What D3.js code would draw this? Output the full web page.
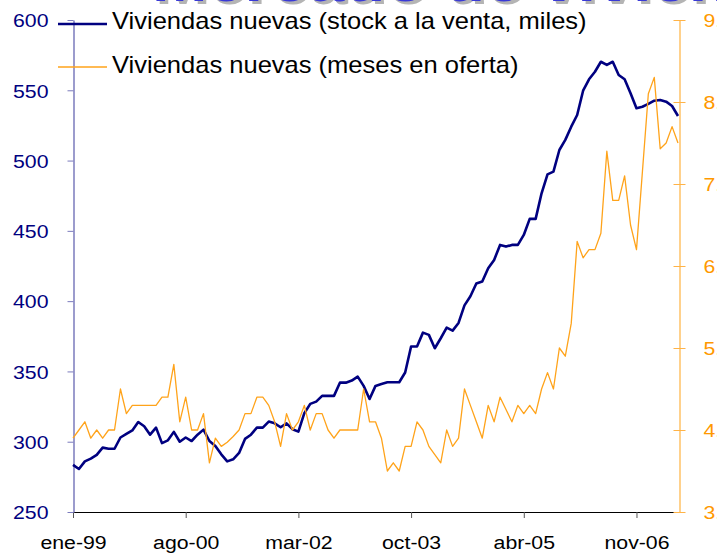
<!DOCTYPE html>
<html><head><meta charset="utf-8">
<script src="https://cdn.jsdelivr.net/npm/d3@7"></script>
<style>body{margin:0;background:#fff} svg{display:block} text{font-family:"Liberation Sans",Arial,sans-serif}</style>
</head><body><svg id="c" width="717" height="556"></svg>
<script>
const titleText = "Mercado de vivienda";
const seriesNames = ["Viviendas nuevas (stock a la venta, miles)", "Viviendas nuevas (meses en oferta)"];
const tickIdx = [0, 19, 38, 57, 76, 95];
const tickLabels = ["ene-99", "ago-00", "mar-02", "oct-03", "abr-05", "nov-06"];
const leftTicks = [250, 300, 350, 400, 450, 500, 550, 600];
const rightTicks = [3, 4, 5, 6, 7, 8, 9];

const stock = [283.5,280.6,286,288,290.6,295.8,295,295,303,305.5,308,314,311,305,310,299,301,307,300,303,
  300.5,305,308.6,300.5,297,291,286,287.5,292,302,305,310,310,314.3,313.1,310.3,313.1,308.9,307.2,320.3,
  326.9,328.5,332.6,332.6,332.6,342,342,343.5,346.3,339.7,330.4,339.7,341.1,342.3,342.3,342.3,349.2,367.7,367.7,377.6,
  376,366.5,373.6,381.1,379,384.5,397,403.5,412.5,414,423.4,429.3,440,438.8,440,440,447.1,458.5,458.5,476.7,
  490.2,492.1,507.5,514.7,524.1,532.4,549.7,557.8,563.2,570.3,568,570.3,560.9,557.8,547.9,537.2,538.3,540.3,542.6,543.1,
  541.9,538.8,531.7];
const meses = [3.9,4.0,4.1,3.9,4.0,3.9,4.0,4.0,4.5,4.2,4.3,4.3,4.3,4.3,4.3,4.4,4.4,4.8,4.1,4.4,
  4.0,4.0,4.2,3.6,3.9,3.8,3.85,3.92,4.0,4.2,4.2,4.4,4.4,4.3,4.1,3.8,4.2,4.0,4.1,4.3,
  4.0,4.2,4.2,4.0,3.9,4.0,4.0,4.0,4.0,4.5,4.1,4.1,3.9,3.5,3.6,3.5,3.8,3.8,4.1,4.0,
  3.8,3.7,3.6,4.0,3.8,3.9,4.5,4.3,4.1,3.9,4.3,4.1,4.4,4.25,4.1,4.3,4.2,4.3,4.2,4.5,
  4.7,4.5,5.0,4.9,5.3,6.3,6.1,6.2,6.2,6.4,7.4,6.8,6.8,7.1,6.5,6.2,7.15,8.1,8.3,7.43,
  7.5,7.7,7.5];

const NAVY = "#000080", ORANGE = "#ffa31a";
const SX = 1.12;
const svg = d3.select("#c");

const x = d3.scaleLinear().domain([0, stock.length - 1]).range([73, 678]);
const yL = d3.scaleLinear().domain([250, 600]).range([512, 20]);
const yR = d3.scaleLinear().domain([3, 9]).range([512, 20]);

// title (mostly cropped)
const tg = svg.append("g").attr("transform", "translate(152,1) scale(1.11,1)");
tg.append("text").attr("x", 3).attr("y", 3).attr("font-size", 60).attr("font-weight", "bold")
  .attr("fill", "#b4b4b4").text(titleText);
tg.append("text").attr("x", 0).attr("y", 0).attr("font-size", 60).attr("font-weight", "bold")
  .attr("fill", "#3a3ad6").text(titleText);

// bottom axis
const gB = svg.append("g").attr("transform", "translate(0,512)")
  .call(d3.axisBottom(x).tickValues(tickIdx).tickFormat((d, i) => tickLabels[i]).tickSize(6).tickSizeOuter(0));
gB.select(".domain").attr("d", "M73.5,0.5H679").attr("stroke", "#000");
gB.selectAll(".tick line").attr("stroke", "#555");
gB.selectAll(".tick text").attr("y", 37 ).attr("dy", 0).attr("font-size", 19).attr("fill", "#000")
  .attr("transform", `scale(${SX},1)`);

// left axis
const gL = svg.append("g").attr("transform", "translate(73.5,0)")
  .call(d3.axisLeft(yL).tickValues(leftTicks).tickSize(6).tickSizeOuter(0));
gL.select(".domain").attr("stroke", "#7b7bbd").attr("stroke-width", 1.5);
gL.selectAll(".tick line").attr("stroke", "#7b7bbd");
gL.selectAll(".tick text").attr("x", -25 / SX).attr("dy", "0.36em").attr("font-size", 19).attr("fill", NAVY)
  .attr("transform", `scale(${SX},1)`);

// right axis
const gR = svg.append("g").attr("transform", "translate(679.5,0)")
  .call(d3.axisRight(yR).tickValues(rightTicks).tickSize(6).tickSizeOuter(0));
gR.select(".domain").attr("stroke", "#ffc266").attr("stroke-width", 1.5);
gR.selectAll(".tick line").attr("x1", -6).attr("x2", 6).attr("stroke", "#ffb347");
gR.selectAll(".tick text").attr("x", 24 / SX).attr("dy", "0.36em").attr("font-size", 19).attr("fill", "#ff9900")
  .attr("transform", `scale(${SX},1)`);

// lines
svg.append("path").datum(stock).attr("fill", "none").attr("stroke", NAVY).attr("stroke-width", 2.6)
  .attr("stroke-linejoin", "round")
  .attr("d", d3.line().x((d, i) => x(i)).y(d => yL(d)));
svg.append("path").datum(meses).attr("fill", "none").attr("stroke", ORANGE).attr("stroke-width", 1.3)
  .attr("stroke-linejoin", "round")
  .attr("d", d3.line().x((d, i) => x(i)).y(d => yR(d)));

// legend
const legend = [{name: seriesNames[0], color: NAVY, w: 2.6, ly: 24, ty: 29},
                {name: seriesNames[1], color: ORANGE, w: 1.3, ly: 67, ty: 73}];
legend.forEach(l => {
  svg.append("line").attr("x1", 58).attr("x2", 107).attr("y1", l.ly).attr("y2", l.ly)
    .attr("stroke", l.color).attr("stroke-width", l.w);
  svg.append("g").attr("transform", `translate(112,${l.ty}) scale(1.11,1)`)
    .append("text").attr("font-size", 23).attr("fill", "#000").text(l.name);
});
</script></body></html>
